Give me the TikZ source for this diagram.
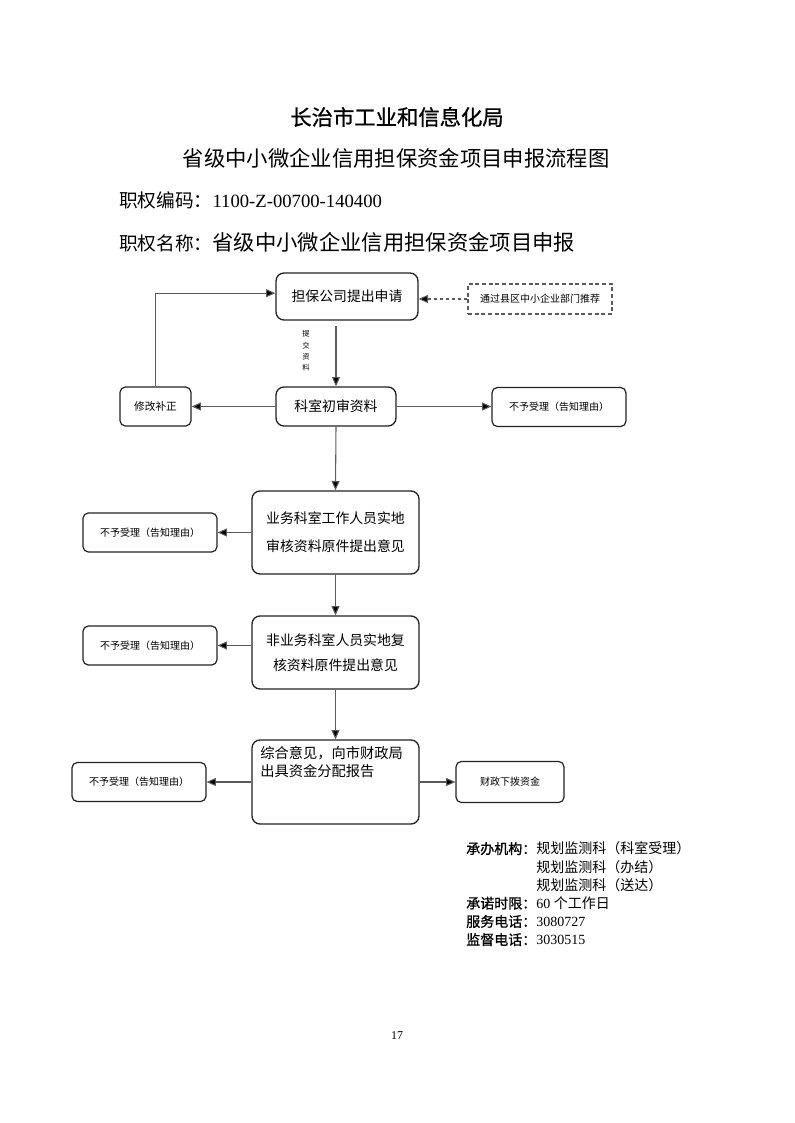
\documentclass[tikz,border=0pt]{standalone}
\usepackage{fontspec}
\setmainfont{Liberation Serif}
\newfontfamily\cjk{Noto Sans CJK SC}
\newfontfamily\cjkmid[FakeBold=1]{Noto Sans CJK SC}
\usetikzlibrary{positioning, arrows.meta}
\definecolor{lGray}{HTML}{5A5A5A}
\definecolor{bGray}{HTML}{222222}

\begin{document}
\begin{tikzpicture}[x=0.75pt, y=-0.75pt,
  stepbox/.style={draw=bGray, line width=1pt, rounded corners=6pt, align=center,
    inner sep=0pt, font=\cjk\fontsize{10.4}{14}\selectfont},
  sidebox/.style={draw=bGray, line width=0.9pt, rounded corners=4pt, inner sep=0pt,
    minimum width=100.5pt, minimum height=29.25pt, font=\cjk\fontsize{7.5}{9}\selectfont},
  flow/.style={draw=lGray, line width=0.8pt, -{Triangle[length=7pt,width=6pt,fill=black]}},
  info/.style={anchor=west, inner sep=0pt},
]
  \useasboundingbox (0,0) rectangle (794,1123);

  % headings
  \node[inner sep=0pt, font=\cjkmid\fontsize{16}{18}\selectfont] (title) at (397,117) {长治市工业和信息化局};
  \node[inner sep=0pt, font=\cjk\fontsize{16}{18}\selectfont] (subtitle) at (396,158) {省级中小微企业信用担保资金项目申报流程图};
  \node[info, font=\fontsize{14}{16}\selectfont] (code) at (119,200) {{\cjk 职权编码：}1100-Z-00700-140400};
  \node[info] (name) at (119,242) {{\cjk\fontsize{14}{16}\selectfont 职权名称：}{\cjk\fontsize{16}{18}\selectfont 省级中小微企业信用担保资金项目申报}};

  % flow boxes
  \node[stepbox, minimum width=106.5pt, minimum height=35.25pt] (apply) at (347,296.5) {担保公司提出申请};
  \node[draw=lGray, line width=1pt, dash pattern=on 3pt off 2pt, inner sep=0pt,
    minimum width=108pt, minimum height=22.5pt, font=\cjk\fontsize{7.5}{9}\selectfont] (recommend) at (540,299) {通过县区中小企业部门推荐};
  \node[stepbox, minimum width=90pt, minimum height=29.25pt] (check) at (336,406.5) {科室初审资料};
  \node[sidebox, minimum width=53.25pt, font=\cjk\fontsize{8}{9}\selectfont] (fix) at (155.5,406.5) {修改补正};
  \node[sidebox] (reject1) at (559,407) {不予受理（告知理由）};
  \node[inner sep=0pt, align=center, font=\cjk\fontsize{5.5}{8.4}\selectfont] (submitlabel) at (306,351) {提\\交\\资\\料};

  \node[stepbox, minimum width=125.25pt, minimum height=62.25pt, font=\cjk\fontsize{10.4}{21}\selectfont] (site) at (335.5,532.5) {业务科室工作人员实地\\审核资料原件提出意见};
  \node[sidebox] (reject2) at (150,532.5) {不予受理（告知理由）};

  \node[stepbox, minimum width=125.25pt, minimum height=54.75pt, font=\cjk\fontsize{10.4}{19}\selectfont] (recheck) at (335.5,652.5) {非业务科室人员实地复\\核资料原件提出意见};
  \node[sidebox] (reject3) at (150,645.5) {不予受理（告知理由）};

  \node[stepbox, minimum width=125.25pt, minimum height=63pt] (report) at (335.5,782) {};
  \node[anchor=north west, inner sep=0pt, align=left, font=\cjk\fontsize{10.7}{13.5}\selectfont] (reporttext) at (260,746) {综合意见，向市财政局\\出具资金分配报告};
  \node[sidebox] (reject4) at (139,782) {不予受理（告知理由）};
  \node[sidebox, minimum width=81pt, minimum height=30.75pt] (fund) at (510,782) {财政下拨资金};

  % connectors
  \draw[flow, dash pattern=on 2.5pt off 2pt] (recommend.west) -- (recommend.west -| apply.east);
  \draw[flow] ([yshift=-4pt]check.north |- apply.south) -- (check.north);
  \draw[flow] (check.west) -- (fix.east);
  \draw[flow] (fix.north) |- ([yshift=2.5pt]apply.west);
  \draw[flow] (check.east) -- (check.east -| reject1.west);
  \draw[flow] (check.south) -- (site.north);
  \draw[flow] (site.west) -- (reject2.east);
  \draw[flow] (site.south) -- (recheck.north);
  \draw[flow] (recheck.west |- reject3) -- (reject3.east);
  \draw[flow] (recheck.south) -- (report.north);
  \draw[flow] (report.west) -- (reject4.east);
  \draw[flow] (report.east) -- (fund.west);

  % office info
  \node[info, align=left, font=\fontsize{10.5}{13.65}\selectfont] (office) at (466,894)
    {{\cjkmid 承办机构：}{\cjk 规划监测科（科室受理）}\\
     {\cjkmid\phantom{承办机构：}}{\cjk 规划监测科（办结）}\\
     {\cjkmid\phantom{承办机构：}}{\cjk 规划监测科（送达）}\\
     {\cjkmid 承诺时限：}60 {\cjk 个工作日}\\
     {\cjkmid 服务电话：}3080727\\
     {\cjkmid 监督电话：}3030515};
  \node[inner sep=0pt, font=\fontsize{9}{10}\selectfont] (pagenum) at (397,1036) {17};
\end{tikzpicture}
\end{document}
